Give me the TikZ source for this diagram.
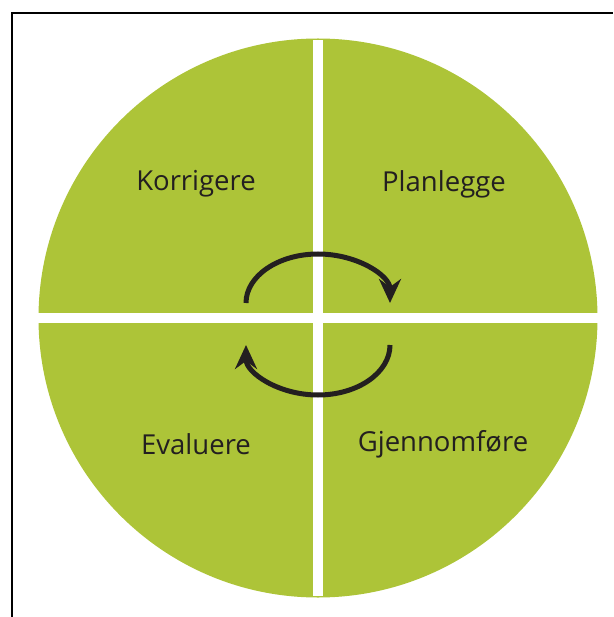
\documentclass[tikz,border=0pt]{standalone}
\usepackage{fontspec}
\setmainfont{Open Sans}
\usepackage{xcolor}
\usetikzlibrary{arrows.meta}

\definecolor{leaf}{RGB}{173,196,56}
\definecolor{ink}{RGB}{35,31,32}

\begin{document}
\begin{tikzpicture}[x=1pt,y=-1pt]
%style for the quarter labels
\tikzstyle{qlabel} = [text=ink, font=\fontsize{27.5}{32}\selectfont]

%style for the cycle arrows
\tikzstyle{cycle} = [draw=ink, line width=5pt, -{Stealth[length=24pt,width=22pt,inset=8pt]}]

\useasboundingbox (0,0) rectangle (613,617);

%outer frame
\coordinate (frameBL) at (12,617);
\coordinate (frameTL) at (12,13);
\coordinate (frameTR) at (613,13);
\draw[line width=2pt] (frameBL) -- (frameTL) -- (frameTR);

%place disc and labels
\node[circle, fill=leaf, minimum size=559pt, inner sep=0pt](disc) at (318,318) {};
\node[qlabel](korr) at (196,184) {Korrigere};
\node[qlabel](plan) at (444,184) {Planlegge};
\node[qlabel](eval) at (196,444) {Evaluere};
\node[qlabel](gjen) at (443,444) {Gjennomføre};

% white cross splitting the disc
\draw[white, line width=10.5pt] ([yshift=-2pt]disc.north) -- ([yshift=2pt]disc.south);
\draw[white, line width=10.5pt] ([xshift=-2pt]disc.west) -- ([xshift=2pt]disc.east);

% arrows going round
\coordinate (topStart) at (246,303);
\coordinate (botStart) at (390,345);
\draw[cycle] (topStart) arc[start angle=180, end angle=360, x radius=72, y radius=49];
\draw[cycle] (botStart) arc[start angle=0, end angle=180, x radius=72, y radius=50];
\end{tikzpicture}
\end{document}
